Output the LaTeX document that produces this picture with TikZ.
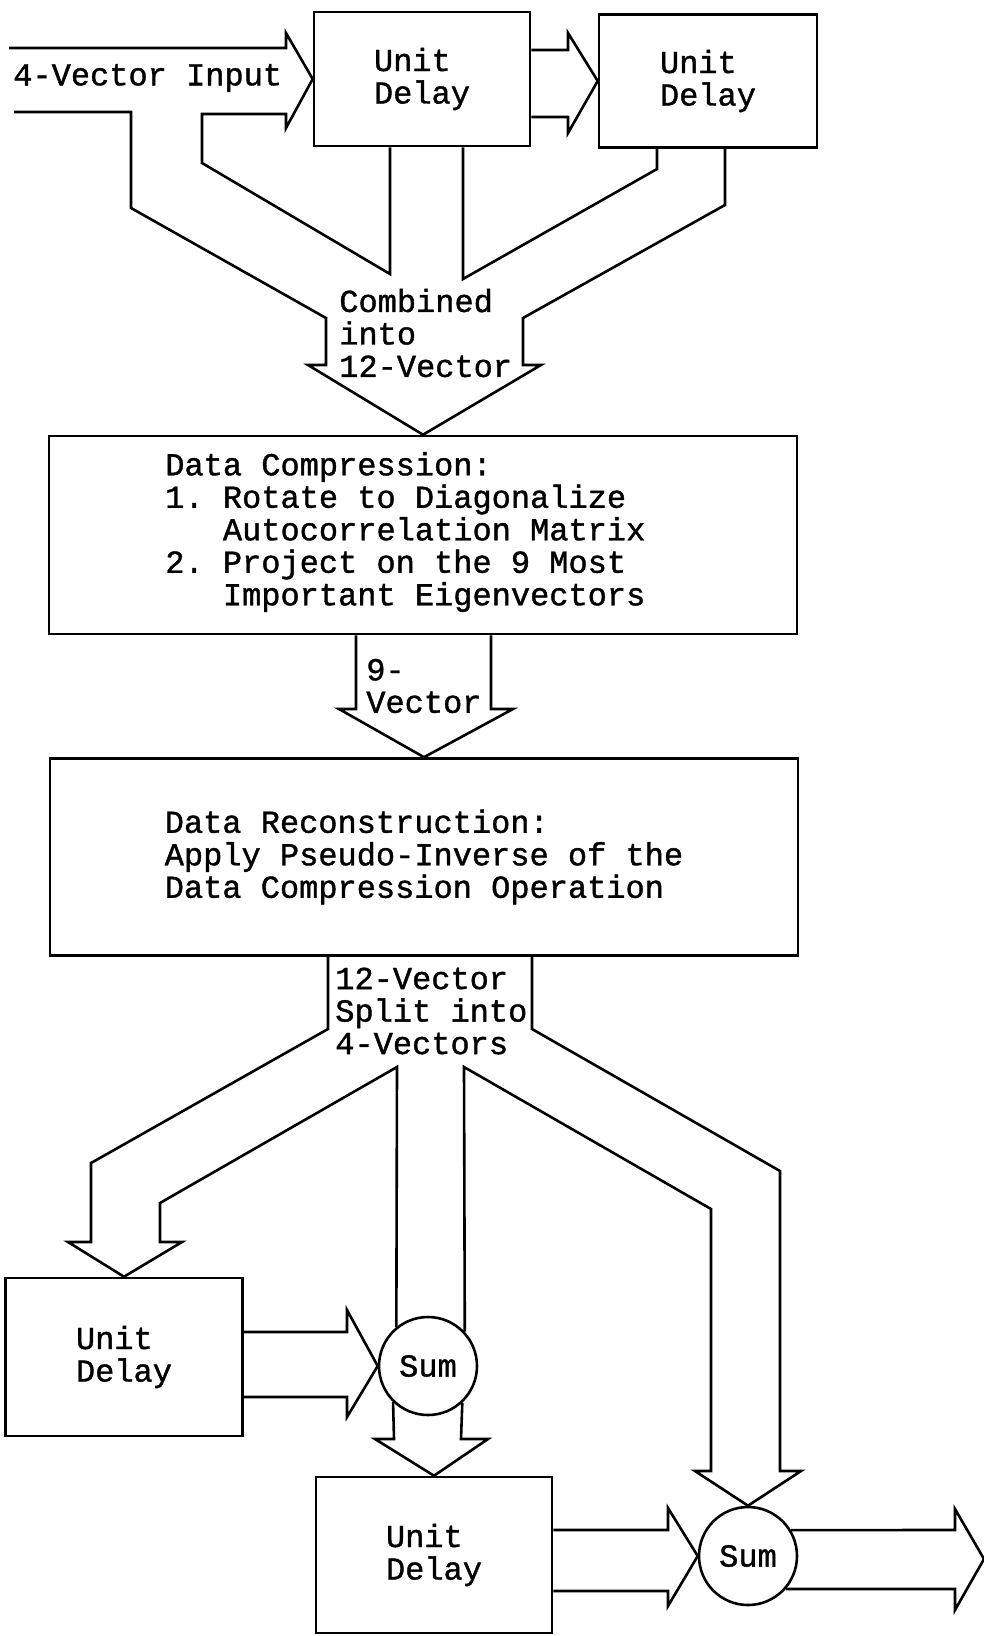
\documentclass[tikz,border=0pt]{standalone}
\usepackage{fontspec}
\setmonofont[FakeBold=1.2]{Liberation Mono}
\usetikzlibrary{calc}

\begin{document}
\begin{tikzpicture}[x=1pt, y=-1pt, line width=2.6pt,
    every node/.style={font=\ttfamily\fontsize{32}{32.5}\selectfont, inner sep=0pt},
    box/.style={draw, rectangle, align=left},
    sumnode/.style={draw, circle, minimum size=98pt}]
  \useasboundingbox (0,0) rectangle (984,1636);

  % blocks
  \node[box, minimum width=216pt, minimum height=134pt] (ud1) at (422,79) {Unit\\Delay};
  \node[box, minimum width=218pt, minimum height=133pt] (ud2) at (708,81) {Unit\\Delay};
  \node[box, minimum width=748pt, minimum height=198pt] (comp) at (423,535) {};
  \node[box, minimum width=748pt, minimum height=197pt] (recon) at (424,857)
    {Data Reconstruction:\\Apply Pseudo-Inverse of the\\Data Compression Operation};
  \node[box, minimum width=237pt, minimum height=158pt] (ud3) at (124,1357) {Unit\\Delay};
  \node[box, minimum width=236pt, minimum height=156pt] (ud4) at (434,1555) {Unit\\Delay};
  \node[sumnode] (sum1) at (428,1366) {Sum};
  \node[sumnode] (sum2) at (748,1556) {Sum};

  % labels
  \node[anchor=west] (inLabel) at (12,78) {4-Vector Input};
  \node[anchor=west, align=left] (combLabel) at (338,333) {Combined\\into\\12-Vector};
  \node[anchor=west, align=left] (compText) at (164,532)
    {Data Compression:\\1. Rotate to Diagonalize\\\phantom{1. }Autocorrelation Matrix\\
     2. Project on the 9 Most\\\phantom{2. }Important Eigenvectors};
  \node[anchor=west, align=left] (nineLabel) at (365,686) {9-\\Vector};
  \node[anchor=west, align=left] (splitLabel) at (334,1011) {12-Vector\\Split into\\4-Vectors};

  \coordinate (inTop) at (9,48);
  \coordinate (inBot) at (14,112);
  \coordinate (outTip) at (984,1559);

  % input, delays, combined into 12-vector
  \draw (inTop) -- (286,48) -- (286,33) -- (ud1.west) -- (286,128) -- (286,114) -- (202,114)
    -- (202,163) -- (390,274) -- (390,0 |- ud1.south);
  \draw (inBot) -- (131,112) -- (131,208) -- (326,318) -- (326,365) -- (308,365) -- (comp.north)
    -- (541,365) -- (523,365) -- (523,318) -- (725,205) -- (725,0 |- ud2.south);
  \draw (463,0 |- ud1.south) -- (463,279) -- (657,169) -- (657,0 |- ud2.south);
  \draw (ud1.east |- 0,50) -- (568,50) -- (568,33) -- (ud2.west) -- (568,133) -- (568,117)
    -- (ud1.east |- 0,117);

  % 9-vector
  \draw (356,0 |- comp.south) -- (356,709) -- (339,709) -- (recon.north) -- (513,709) -- (491,709)
    -- (491,0 |- comp.south);

  % split into 4-vectors
  \draw (328,0 |- recon.south) -- (328,1029) -- (91,1163) -- (91,1242) -- (68,1242) -- (ud3.north)
    -- (182,1242) -- (160,1242) -- (160,1203) -- (397,1067) -- (sum1.129);
  \draw (532,0 |- recon.south) -- (532,1029) -- (780,1171) -- (780,1471) -- (801,1471) -- (sum2.north)
    -- (695,1471) -- (711,1471) -- (711,1209) -- (464,1067) -- (sum1.43);

  % delays and sums
  \draw (ud3.east |- 0,1332) -- (347,1332) -- (347,1310) -- (sum1.west) -- (347,1417) -- (347,1397)
    -- (ud3.east |- 0,1397);
  \draw (sum1.226) -- (394,1439) -- (375,1439) -- (ud4.north) -- (488,1439) -- (461,1439) -- (sum1.313);
  \draw (ud4.east |- 0,1530) -- (668,1530) -- (668,1508) -- (sum2.west) -- (668,1606) -- (668,1591)
    -- (ud4.east |- 0,1591);
  \draw (sum2.31) -- (955,1530) -- (955,1509) -- (outTip) -- (955,1610) -- (955,1589) -- (sum2.-41);
\end{tikzpicture}
\end{document}
